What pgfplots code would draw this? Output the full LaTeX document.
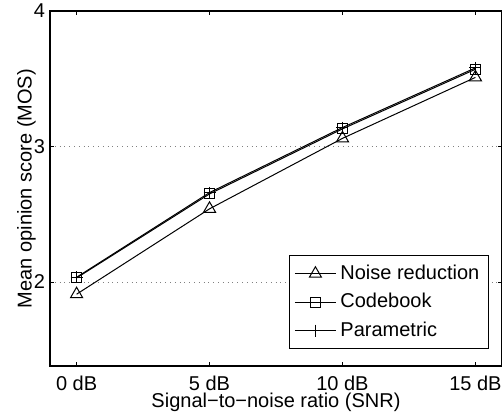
\documentclass[border=0pt]{standalone}
\usepackage{fontspec}
\setmainfont{Liberation Sans}
\usepackage{pgfplots}
\pgfplotsset{compat=1.18}
\usetikzlibrary{calc}

\begin{document}
\fontsize{10}{12}\selectfont
\begin{tikzpicture}
\begin{axis}[
    width=226pt, height=177.5pt,
    scale only axis,
    xmin=-1, xmax=16,
    ymin=1.38, ymax=4,
    xtick={0,5,10,15},
    xticklabels={0 dB, 5 dB, 10 dB, 15 dB},
    ytick={2,3,4},
    tick align=inside,
    major tick length=2pt,
    axis line style={line width=0.7pt},
    tick style={black, line width=0.5pt},
    ymajorgrids,
    grid style={gray, dotted, line width=0.5pt},
    /pgf/number format/assume math mode=true,
    ticklabel style={font=\fontsize{10}{12}\selectfont},
    xticklabel style={yshift=-1.5pt},
    yticklabel style={xshift=1pt},
    xlabel={Signal−to−noise ratio (SNR)},
    ylabel={Mean opinion score (MOS)},
    xlabel style={at={(axis description cs:0.5,-0.103)}, anchor=center},
    ylabel style={at={(axis description cs:-0.052,0.5)}, anchor=center},
    legend style={
        at={(rel axis cs:0.971,0.048)}, anchor=south east,
        draw=black, line width=0.5pt, fill=white,
        font=\fontsize{10}{12}\selectfont,
        row sep=1.5pt, inner sep=2.5pt,
    },
    legend cell align=left,
    legend image code/.code={
        \draw[mark repeat=2, mark phase=2] plot coordinates {(0pt,0pt) (10.25pt,0pt) (20.5pt,0pt)};
    },
]

\addplot[black, line width=0.5pt, mark=triangle, mark size=3.5pt, mark options={solid, line width=0.5pt}]
    coordinates {(0,1.91) (5,2.54) (10,3.06) (15,3.51)};
\addlegendentry{Noise reduction}

\addplot[black, line width=0.5pt, mark=square, mark size=2.5pt, mark options={solid, line width=0.5pt}]
    coordinates {(0,2.03) (5,2.65) (10,3.13) (15,3.57)};
\addlegendentry{Codebook}

\addplot[black, line width=0.5pt, mark=+, mark size=3pt, mark options={solid, line width=0.5pt}]
    coordinates {(0,2.035) (5,2.66) (10,3.14) (15,3.58)};
\addlegendentry{Parametric}

\end{axis}
\pgfresetboundingbox
\path[use as bounding box] ($(current axis.south west)+(-25pt,-25pt)$) rectangle ($(current axis.north east)+(0pt,5.5pt)$);
\end{tikzpicture}
\end{document}
